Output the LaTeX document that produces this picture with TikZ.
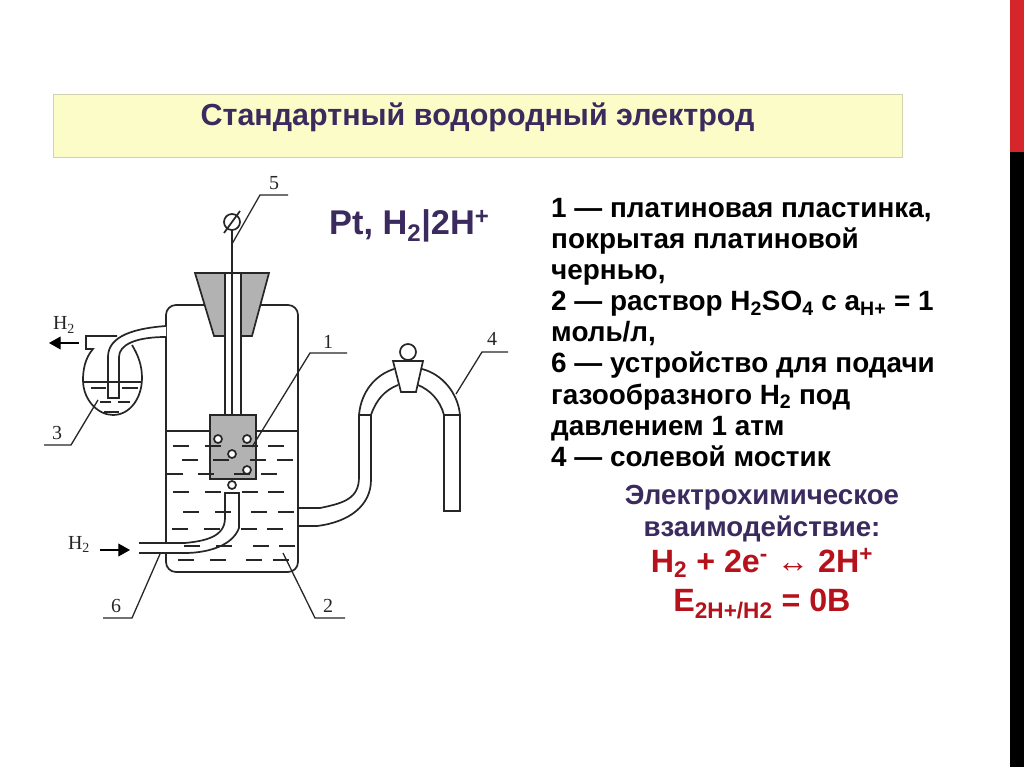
\documentclass[tikz,border=0pt]{standalone}
\usepackage{fontspec}
\setmainfont{Liberation Sans}
\newfontfamily\labelfont{Liberation Serif}
\usetikzlibrary{arrows.meta, positioning, calc}
\definecolor{slidered}{HTML}{D5262C}
\definecolor{titlepurple}{HTML}{3B2A5E}
\definecolor{boxyellow}{HTML}{FCFCC8}
\definecolor{boxedge}{HTML}{D2D2B0}
\definecolor{reactionred}{HTML}{B5121B}

\begin{document}
\begin{tikzpicture}[x=0.03cm, y=-0.03cm,
    vessel/.style={line width=1.45pt, draw=black!85},
    leader/.style={line width=1.1pt, draw=black!85},
    gasarrow/.style={line width=1.1pt, draw=black, -{Triangle[length=10pt, width=11pt]}},
    numlabel/.style={font=\labelfont\fontsize{17}{17}\selectfont, inner sep=0pt, text=black!85},
    listline/.style={font=\bfseries\fontsize{23.8}{23.8}\selectfont, anchor=north west, inner sep=0pt, text height=17.5pt, text depth=8.6pt},
    purpleline/.style={font=\bfseries\fontsize{23.6}{23.6}\selectfont, text=titlepurple, inner sep=0pt},
    redline/.style={font=\bfseries\fontsize{27.5}{27.5}\selectfont, text=reactionred, inner sep=0pt}]
    \useasboundingbox (0,0) rectangle (1024,767);
    \fill[white] (0,0) rectangle (1024,767);
    % Side bar
    \fill[slidered] (1010,0) rectangle (1024,152);
    \fill[black] (1010,152) rectangle (1024,767);
    % Title
    \node[draw=boxedge, fill=boxyellow, line width=0.8pt, minimum width=25.47cm, minimum height=1.89cm, inner sep=0pt] (titlebox) at (477.5,125.5) {};
    \node[font=\bfseries\fontsize{26}{26}\selectfont, text=titlepurple, inner sep=0pt] (title) at (477.5,117) {Стандартный водородный электрод};
    % Formula
    \node[font=\bfseries\fontsize{29.3}{29.3}\selectfont, text=titlepurple, anchor=west, inner sep=0pt] (formula) at (329,226) {Pt, H\textsubscript{2}|2H\textsuperscript{+}};
    % Legend
    \node[listline] (item1) at (551,197) {1 — платиновая пластинка,};
    \node[below=0pt of item1.south west, listline] (item2) {покрытая платиновой};
    \node[below=0pt of item2.south west, listline] (item3) {чернью,};
    \node[below=0pt of item3.south west, listline] (item4) {2 — раствор H\textsubscript{2}SO\textsubscript{4} с a\textsubscript{H+} = 1};
    \node[below=0pt of item4.south west, listline] (item5) {моль/л,};
    \node[below=0pt of item5.south west, listline] (item6) {6 — устройство для подачи};
    \node[below=0pt of item6.south west, listline] (item7) {газообразного H\textsubscript{2} под};
    \node[below=0pt of item7.south west, listline] (item8) {давлением 1 атм};
    \node[below=0pt of item8.south west, listline] (item9) {4 — солевой мостик};
    % Reaction
    \node[purpleline] (react1) at (762,498) {Электрохимическое};
    \node[purpleline] (react2) at (762,529) {взаимодействие:};
    \node[redline] (react3) at (762,563) {H\textsubscript{2} + 2e\textsuperscript{-} ↔ 2H\textsuperscript{+}};
    \node[redline] (react4) at (762,604) {E\textsubscript{2H+/H2} = 0В};
    % Jar
    \draw[vessel, rounded corners=8.5pt] (166,431) -- (166,305) -- (298,305) -- (298,431);
    \draw[vessel, rounded corners=8.5pt] (166,431) -- (166,572) -- (298,572) -- (298,431);
    \draw[vessel] (166,431) -- (298,431);
    % Stopper
    \draw[vessel, fill=black!30] (195,273) -- (269,273) -- (252,336) -- (214,336) -- cycle;
    % Electrode
    \draw[vessel, fill=white] (225,273) rectangle (241,415);
    \draw[vessel] (232,230) -- (232,415);
    \draw[vessel, fill=black!30] (210,415) rectangle (256,479);
    \draw[vessel, fill=white] (232,222) circle (8);
    \draw[vessel] (224,233) -- (240,211);
    % Inlet tube
    \draw[vessel, fill=white] (139,543) -- (185,543) .. controls (205,541) and (225,537) .. (225,518) -- (225,493) -- (239,493) -- (239,528) .. controls (232,547) and (205,553) .. (185,553) -- (139,553);
    % Outlet tube
    \draw[vessel] (298,508) -- (320,508) .. controls (345,503) and (359,498) .. (359,477) -- (359,415);
    \draw[vessel] (298,526) -- (317,526) .. controls (350,522) and (371,505) .. (371,480) -- (371,415);
    \draw[vessel] (359,415) -- (371,415);
    % Salt bridge
    \draw[vessel] (359,415) .. controls (361,392) and (375,375) .. (394,369);
    \draw[vessel] (371,415) .. controls (376,400) and (385,390) .. (398,385);
    \draw[vessel] (422,369) .. controls (442,374) and (458,393) .. (460,415);
    \draw[vessel] (418,385) .. controls (430,390) and (440,400) .. (444,415);
    \draw[vessel] (444,415) rectangle (460,511);
    \draw[vessel, fill=white] (393,361) -- (423,361) -- (416,392) -- (401,392) -- cycle;
    \draw[vessel, fill=white] (408,352) circle (8);
    % Flask
    \draw[vessel] (117,336) -- (86,336) -- (86,349) -- (93,349) .. controls (85,358) and (83,370) .. (83,380) .. controls (83,400) and (98,415) .. (113,415) .. controls (130,415) and (142,398) .. (142,378) .. controls (142,365) and (138,355) .. (132,345);
    \draw[vessel, fill=white] (166,326) .. controls (125,329) and (108,340) .. (108,357) -- (108,398) -- (119,398) -- (119,357) .. controls (119,345) and (135,337) .. (166,337);
    \draw[vessel] (83,382) -- (142,382);
    \foreach \xa/\xb/\ya in {91/106/388, 122/138/388, 100/111/402, 118/130/402, 104/119/412}
        \draw[vessel] (\xa,\ya) -- (\xb,\ya);
    % Solution
    \foreach \ya/\xa/\xb/\xc/\xd in {446/173/205/242/268, 460/182/213/250/277, 474/167/198/234/261, 492/173/205/242/268, 512/183/215/251/278, 529/172/204/241/267, 546/184/216/253/279, 560/178/210/246/273} {
        \draw[vessel] (\xa,\ya) -- ++(16,0);
        \draw[vessel] (\xb,\ya) -- ++(16,0);
        \draw[vessel] (\xc,\ya) -- ++(16,0);
        \draw[vessel] (\xd,\ya) -- ++(16,0);
    }
    % Bubbles
    \foreach \xa/\ya in {218/439, 247/439, 232/454, 247/470, 232/485}
        \draw[vessel, fill=white] (\xa,\ya) circle (4);
    % Gas labels
    \node[numlabel] (h2out) at (64,325) {H\textsubscript{2}};
    \node[numlabel] (h2in) at (79,544) {H\textsubscript{2}};
    \coordinate (h2outfrom) at (79,343);
    \coordinate (h2outto) at (49,343);
    \coordinate (h2infrom) at (100,550);
    \coordinate (h2into) at (130,550);
    \draw[gasarrow] (h2outfrom) -- (h2outto);
    \draw[gasarrow] (h2infrom) -- (h2into);
    % Leaders
    \node[numlabel] (num5) at (274,183) {5};
    \coordinate (tip5) at (232,244);
    \draw[leader] (tip5) -- (260,195) -- (288,195);
    \node[numlabel] (num1) at (328,342) {1};
    \coordinate (tip1) at (252,447);
    \draw[leader] (tip1) -- (310,353) -- (347,353);
    \node[numlabel] (num4) at (492,339) {4};
    \coordinate (tip4) at (456,394);
    \draw[leader] (tip4) -- (482,352) -- (508,352);
    \node[numlabel] (num3) at (57,433) {3};
    \coordinate (tip3) at (98,400);
    \draw[leader] (tip3) -- (71,445) -- (44,445);
    \node[numlabel] (num6) at (116,606) {6};
    \coordinate (tip6) at (160,554);
    \draw[leader] (tip6) -- (132,618) -- (103,618);
    \node[numlabel] (num2) at (328,606) {2};
    \coordinate (tip2) at (283,553);
    \draw[leader] (tip2) -- (315,618) -- (345,618);
\end{tikzpicture}
\end{document}
